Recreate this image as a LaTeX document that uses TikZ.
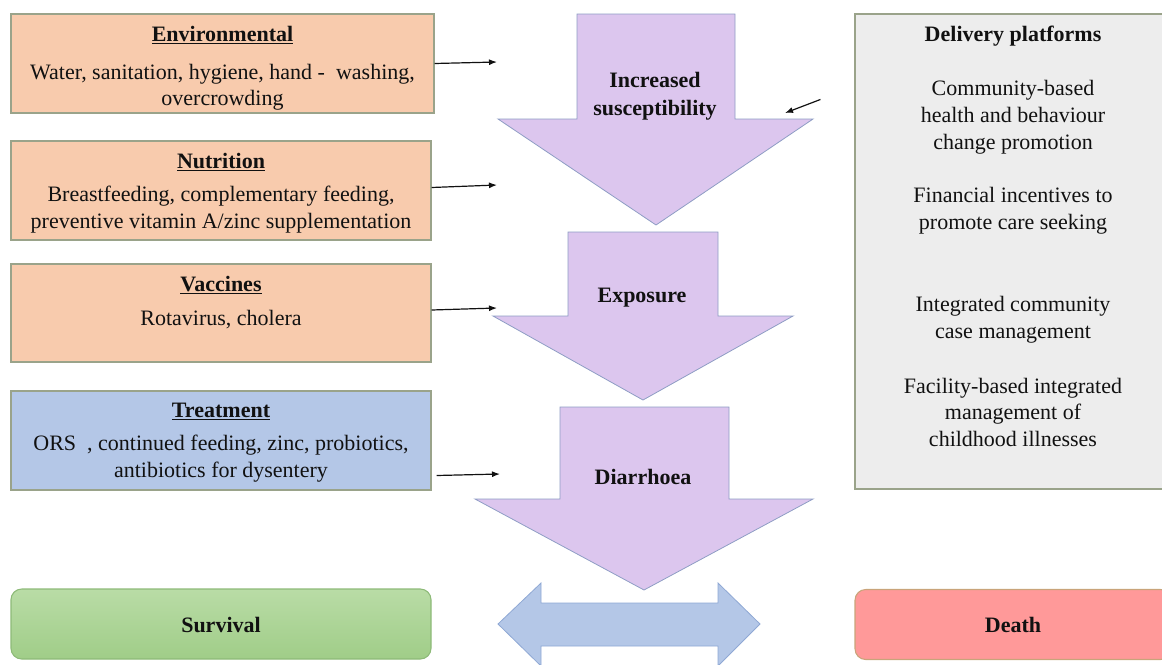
\documentclass[tikz,border=0pt]{standalone}
\usepackage{fontspec}
\setmainfont{LiberationSerif}[
  Extension=.ttf,
  UprightFont=*-Regular,
  BoldFont=*-Bold,
  ItalicFont=*-Italic,
  BoldItalicFont=*-BoldItalic]
\usepackage{tikz}
\usetikzlibrary{positioning, arrows.meta, calc}
\definecolor{cOrange}    {HTML}{F8CBAD}
\definecolor{cBlueBox}   {HTML}{B4C7E7}
\definecolor{cGreyBox}   {HTML}{EDEDED}
\definecolor{cBorder}    {HTML}{9AA38A}
\definecolor{cPurple}    {HTML}{DCC6EE}
\definecolor{cPurpleLine}{HTML}{8E9DC4}
\definecolor{cGreenTop}  {HTML}{B9DCA6}
\definecolor{cGreenBot}  {HTML}{A0CD88}
\definecolor{cGreenLine} {HTML}{8DBA78}
\definecolor{cDeath}     {HTML}{FF9999}
\definecolor{cDeathLine} {HTML}{C9A47A}
\definecolor{cSwing}     {HTML}{B4C7E7}
\definecolor{cSwingLine} {HTML}{8FA8D4}
\definecolor{cInk}       {HTML}{111111}

\begin{document}
\begin{tikzpicture}[x=0.75pt, y=-0.75pt,
    factor/.style={draw=cBorder, line width=0.8pt, minimum width=315pt,
                   minimum height=74.25pt, inner sep=0pt},
    boxtext/.style={font=\fontsize{16.5}{20}\selectfont, text=cInk,
                    align=center, inner sep=0pt},
    arrowlabel/.style={font=\fontsize{16.5}{21}\selectfont\bfseries,
                       text=cInk, align=center, inner sep=0pt},
    flowarrow/.style={fill=cPurple, draw=cPurpleLine, line width=0.6pt},
    feed/.style={-{Latex[length=6pt,width=4.5pt]}, line width=0.9pt, cInk},
  ]
  \useasboundingbox (0,0) rectangle (1162,664);

  % left column of intervention boxes
  \node[factor, fill=cOrange, minimum width=317.25pt] (env) at (222.5,63.5) {};
  \node[boxtext, below=9pt of env.north] (envtxt)
    {\underline{\textbf{Environmental}}\\[9pt]Water, sanitation, hygiene, hand -\ \ washing,\\[-1pt]overcrowding};

  \node[factor, fill=cOrange] (nut) at (221,190.5) {};
  \node[boxtext, below=9pt of nut.north] (nuttxt)
    {\underline{\textbf{Nutrition}}\\[5pt]Breastfeeding, complementary feeding,\\preventive vitamin A/zinc supplementation};

  \node[factor, fill=cOrange, minimum height=73.5pt] (vac) at (221,313) {};
  \node[boxtext, below=9pt of vac.north] (vactxt)
    {\underline{\textbf{Vaccines}}\\[6pt]Rotavirus, cholera};

  \node[factor, fill=cBlueBox] (treat) at (221,440.5) {};
  \node[boxtext, below=9pt of treat.north] (treattxt)
    {\underline{\textbf{Treatment}}\\[5pt]ORS\ \ , continued feeding, zinc, probiotics,\\antibiotics for dysentery};

  % outcomes
  \node[factor, draw=cGreenLine, top color=cGreenTop, bottom color=cGreenBot,
        rounded corners=8pt, minimum height=52.5pt] (surv) at (221,624) {};
  \node[arrowlabel] (survtxt) at (221,625) {Survival};

  \node[factor, draw=cDeathLine, fill=cDeath, rounded corners=8pt,
        minimum width=237pt, minimum height=52.5pt] (death) at (1013,624.5) {};
  \node[arrowlabel] (deathtxt) at (1013,625) {Death};

  % delivery platforms
  \node[factor, fill=cGreyBox, minimum width=237pt, minimum height=356.25pt]
    (deliv) at (1013,251.5) {};
  \node[boxtext, below=9pt of deliv.north] (delivtxt)
    {\textbf{Delivery platforms}\\[21pt]Community-based\\health and behaviour\\change promotion\\[20pt]%
     Financial incentives to\\promote care seeking\\[42pt]Integrated community\\case management\\[21pt]%
     Facility-based integrated\\management of\\childhood illnesses};

  % causal chain
  \draw[flowarrow] (577,14) -- (735,14) -- (735,119) -- (813,119) -- (656,225)
    -- (498,119) -- (577,119) -- cycle;
  \node[arrowlabel] (incr) at (655,96) {Increased\\susceptibility};

  \draw[flowarrow] (568,232) -- (718,232) -- (718,316) -- (793,316) -- (643,400)
    -- (493,316) -- (568,316) -- cycle;
  \node[arrowlabel] (expo) at (642,298) {Exposure};

  \draw[flowarrow] (560,407) -- (729,407) -- (729,499) -- (813,499) -- (644,590)
    -- (475,499) -- (560,499) -- cycle;
  \node[arrowlabel] (diar) at (643,477) {Diarrhoea};

  \draw[fill=cSwing, draw=cSwingLine, line width=0.6pt]
    (498,624) -- (541,583) -- (541,603) -- (718,603) -- (718,583) -- (760,624)
    -- (718,666) -- (718,646) -- (541,646) -- (541,666) -- cycle;

  % feeding arrows
  \coordinate (envin)   at (497,62);
  \coordinate (nutin)   at (497,185);
  \coordinate (vacin)   at (497,308);
  \coordinate (treatin) at (500,474);
  \coordinate (delin)   at (785,113);
  \draw[feed] (env.east) -- (envin);
  \draw[feed] ($(nut.east)+(0,-3)$) -- (nutin);
  \draw[feed] ($(vac.east)+(0,-3)$) -- (vacin);
  \draw[feed] ($(treat.east)+(5,35)$) -- (treatin);
  \draw[feed] ($(deliv.north west)+(-34,86)$) -- (delin);
\end{tikzpicture}
\end{document}
